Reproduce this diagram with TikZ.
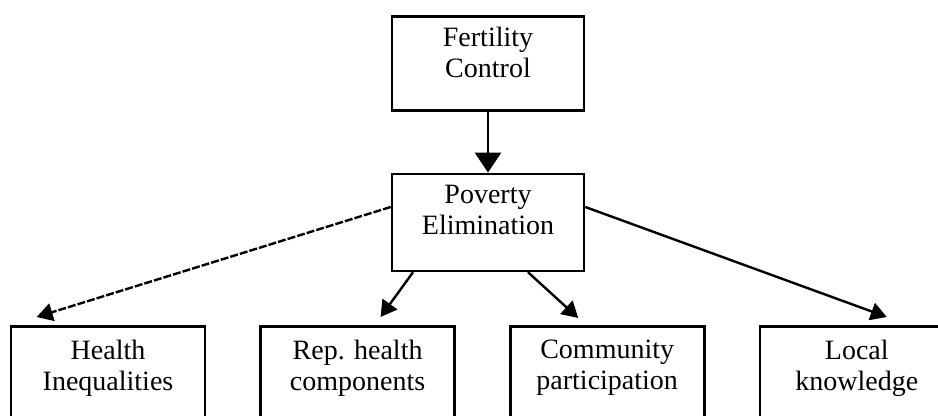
\documentclass[tikz,border=0pt]{standalone}
\usepackage{fontspec}
\setmainfont{Liberation Serif}
\usetikzlibrary{positioning,arrows.meta}

\tikzset{
	block/.style={draw, line width=1.3pt, minimum width=#1, inner xsep=1pt, inner ysep=5.5pt, anchor=north,
		font=\fontsize{14}{15.5}\selectfont},
	block/.default=96pt,
	link/.style={line width=1.2pt, -{Triangle[width=9pt,length=8pt]}},
}
% text sits at the top of a box of fixed height
\newcommand{\boxlabel}[2][36pt]{\parbox[c][#1][t]{94pt}{\centering #2}}

\begin{document}
\begin{tikzpicture}[x=0.5pt,y=-0.5pt]
	\useasboundingbox (0,0) rectangle (938,416);
	\clip (0,0) rectangle (938,416);
	% upper two boxes
	\node[block] (fert) at (488,15) {\boxlabel{Fertility\\Control}};
	\node[block, below=30.5pt of fert] (pov) {\boxlabel[37.5pt]{Poverty\\Elimination}};
	% lower row, open at the bottom
	\node[block=97pt, inner ysep=7pt] (health) at (108,325) {\boxlabel[60pt]{Health\\Inequalities}};
	\node[block=97pt, inner ysep=7pt, right=26.5pt of health] (rep) {\boxlabel[60pt]{Rep. health\\components}};
	\node[block=97pt, inner ysep=7pt, right=26.5pt of rep] (comm) {\boxlabel[60pt]{Community\\participation}};
	\node[block=97pt, inner ysep=7pt, right=26.5pt of comm] (local) {\boxlabel[60pt]{Local\\knowledge}};
	% arrows
	\draw[line width=1.2pt, -{Triangle[width=13pt,length=10pt]}] (fert) -- (pov);
	\draw[link, dash pattern=on 4pt off 1pt] (pov.171) -- ([xshift=13.5pt,yshift=4pt]health.north west);
	\draw[link] ([xshift=-37.5pt]pov.south) -- ([xshift=11.5pt,yshift=4pt]rep.north);
	\draw[link] ([xshift=20pt]pov.south) -- ([xshift=-14.5pt,yshift=3.5pt]comm.north);
	\draw[link] (pov.9) -- ([xshift=15pt,yshift=4pt]local.north);
\end{tikzpicture}
\end{document}
